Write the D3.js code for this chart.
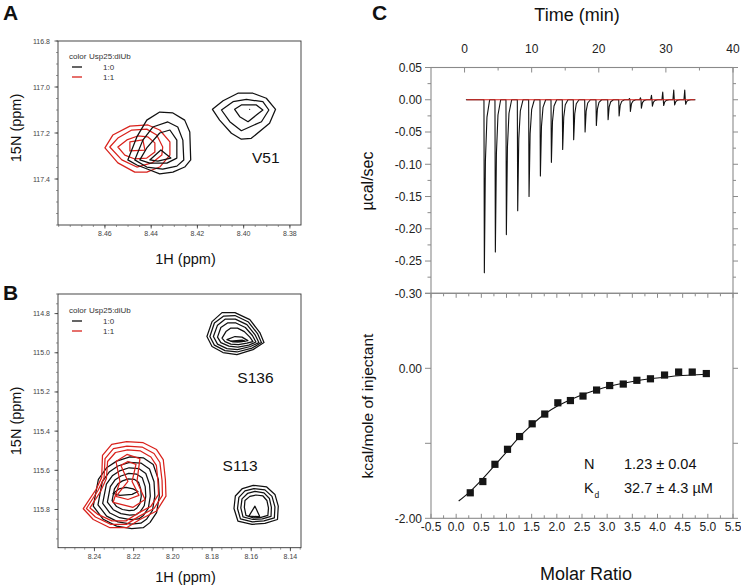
<!DOCTYPE html>
<html><head><meta charset="utf-8">
<script src="https://cdn.jsdelivr.net/npm/d3@7"></script>
<style>body{margin:0;background:#fff}svg{display:block}text{font-family:"Liberation Sans",Arial,sans-serif}</style>
</head><body>
<svg id="c" width="741" height="586"></svg>
<script>
// ---------------- DATA ----------------
// Panel A (1H ppm, 15N ppm) contour polygons
const A_blackLeft = [
 [[8.4501,117.317],[8.4462,117.217],[8.4419,117.144],[8.4363,117.109],[8.4306,117.113],[8.4255,117.144],[8.4233,117.196],[8.4229,117.317],[8.4255,117.348],[8.4306,117.370],[8.4363,117.378],[8.4406,117.361],[8.4462,117.339]],
 [[8.4471,117.317],[8.4436,117.231],[8.4393,117.174],[8.4328,117.152],[8.4285,117.174],[8.4263,117.231],[8.4259,117.317],[8.4289,117.344],[8.4350,117.357],[8.4419,117.348]],
 [[8.4449,117.317],[8.4419,117.265],[8.4363,117.200],[8.4319,117.187],[8.4289,117.231],[8.4289,117.309],[8.4332,117.331],[8.4406,117.331]],
 [[8.4406,117.317],[8.4358,117.274],[8.4315,117.309],[8.4371,117.322]]
];
const A_redLeft = [
 [[8.4600,117.265],[8.4566,117.209],[8.4492,117.170],[8.4414,117.165],[8.4363,117.187],[8.4319,117.239],[8.4319,117.296],[8.4363,117.348],[8.4419,117.370],[8.4471,117.370],[8.4544,117.330]],
 [[8.4579,117.261],[8.4544,117.222],[8.4484,117.187],[8.4419,117.183],[8.4376,117.209],[8.4350,117.261],[8.4354,117.296],[8.4397,117.330],[8.4462,117.348],[8.4527,117.317]],
 [[8.4544,117.261],[8.4505,117.230],[8.4458,117.213],[8.4414,117.217],[8.4384,117.243],[8.4384,117.283],[8.4419,117.309],[8.4471,117.313],[8.4514,117.296]],
 [[8.4492,117.239],[8.4436,117.230],[8.4427,117.274],[8.4492,117.278]]
];
const A_V51 = [
 [[8.4135,117.097],[8.4089,117.060],[8.4025,117.027],[8.3960,117.027],[8.3902,117.049],[8.3862,117.097],[8.3888,117.158],[8.3967,117.223],[8.4010,117.227],[8.4053,117.201],[8.4104,117.144]],
 [[8.4096,117.100],[8.4046,117.064],[8.3988,117.054],[8.3917,117.064],[8.3891,117.100],[8.3923,117.151],[8.4010,117.190],[8.4060,117.151]],
 [[8.4039,117.097],[8.4010,117.078],[8.3945,117.078],[8.3917,117.100],[8.3945,117.122],[8.3981,117.151],[8.4017,117.129]]
];
const A_V51_dot = [8.3974, 117.097];

// Panel B contour polygons
const B_S136 = [
 [[8.1826,114.917],[8.1800,114.841],[8.1749,114.795],[8.1683,114.795],[8.1607,114.831],[8.1556,114.897],[8.1535,114.948],[8.1591,114.984],[8.1673,115.009],[8.1744,114.999],[8.1800,114.968]],
 [[8.1811,114.917],[8.1788,114.848],[8.1742,114.813],[8.1683,114.810],[8.1614,114.843],[8.1568,114.902],[8.1548,114.948],[8.1596,114.976],[8.1673,114.996],[8.1734,114.989],[8.1788,114.961]],
 [[8.1793,114.917],[8.1772,114.859],[8.1732,114.828],[8.1681,114.828],[8.1622,114.856],[8.1581,114.907],[8.1561,114.948],[8.1604,114.968],[8.1670,114.984],[8.1724,114.979],[8.1772,114.956]],
 [[8.1772,114.920],[8.1755,114.871],[8.1721,114.848],[8.1678,114.848],[8.1630,114.871],[8.1594,114.912],[8.1576,114.945],[8.1612,114.961],[8.1668,114.971],[8.1714,114.966],[8.1755,114.948]],
 [[8.1749,114.925],[8.1729,114.892],[8.1704,114.874],[8.1670,114.874],[8.1635,114.892],[8.1607,114.920],[8.1591,114.943],[8.1622,114.951],[8.1665,114.958],[8.1704,114.956],[8.1734,114.943]],
 [[8.1724,114.933],[8.1683,114.917],[8.1647,114.920],[8.1617,114.938],[8.1647,114.943],[8.1693,114.945]],
 [[8.1704,114.940],[8.1647,114.935],[8.1632,114.940],[8.1668,114.944]]
];
const B_S113 = [
 [[8.1681,115.731],[8.1645,115.693],[8.1590,115.677],[8.1521,115.685],[8.1479,115.723],[8.1462,115.783],[8.1466,115.851],[8.1530,115.871],[8.1596,115.876],[8.1668,115.859],[8.1688,115.795]],
 [[8.1663,115.738],[8.1632,115.705],[8.1586,115.693],[8.1530,115.700],[8.1494,115.733],[8.1479,115.787],[8.1482,115.843],[8.1535,115.858],[8.1594,115.863],[8.1655,115.848],[8.1670,115.795]],
 [[8.1647,115.746],[8.1619,115.718],[8.1581,115.708],[8.1535,115.715],[8.1507,115.744],[8.1497,115.789],[8.1499,115.835],[8.1543,115.848],[8.1591,115.851],[8.1642,115.838],[8.1653,115.792]],
 [[8.1632,115.754],[8.1607,115.733],[8.1576,115.726],[8.1540,115.731],[8.1520,115.754],[8.1512,115.792],[8.1515,115.830],[8.1550,115.840],[8.1589,115.843],[8.1627,115.830],[8.1635,115.789]],
 [[8.1612,115.834],[8.1581,115.783],[8.1556,115.837]]
];
const B_leftBlack = [
 [[8.2406,115.783],[8.2380,115.646],[8.2338,115.587],[8.2287,115.553],[8.2219,115.531],[8.2151,115.536],[8.2100,115.570],[8.2074,115.646],[8.2069,115.732],[8.2083,115.816],[8.2117,115.867],[8.2151,115.893],[8.2210,115.898],[8.2287,115.885],[8.2355,115.850]],
 [[8.2382,115.776],[8.2360,115.658],[8.2323,115.607],[8.2280,115.578],[8.2221,115.559],[8.2163,115.563],[8.2119,115.593],[8.2096,115.658],[8.2092,115.732],[8.2104,115.805],[8.2133,115.848],[8.2163,115.870],[8.2213,115.875],[8.2280,115.863],[8.2338,115.834]],
 [[8.2358,115.769],[8.2339,115.671],[8.2309,115.628],[8.2272,115.603],[8.2223,115.587],[8.2174,115.591],[8.2138,115.616],[8.2119,115.671],[8.2115,115.732],[8.2125,115.793],[8.2150,115.830],[8.2174,115.848],[8.2217,115.852],[8.2272,115.842],[8.2321,115.818]],
 [[8.2334,115.762],[8.2319,115.683],[8.2294,115.648],[8.2265,115.629],[8.2225,115.616],[8.2186,115.619],[8.2156,115.638],[8.2141,115.683],[8.2138,115.732],[8.2146,115.781],[8.2166,115.811],[8.2186,115.826],[8.2220,115.829],[8.2265,115.821],[8.2304,115.801]],
 [[8.2310,115.755],[8.2298,115.695],[8.2280,115.669],[8.2257,115.654],[8.2227,115.644],[8.2197,115.646],[8.2175,115.661],[8.2164,115.695],[8.2161,115.733],[8.2168,115.770],[8.2183,115.792],[8.2197,115.803],[8.2223,115.806],[8.2257,115.800],[8.2287,115.785]],
 [[8.2305,115.718],[8.2275,115.695],[8.2239,115.687],[8.2203,115.695],[8.2178,115.708],[8.2208,115.723],[8.2270,115.728]]
];
const B_leftRed = [
 [[8.2457,115.796],[8.2392,115.698],[8.2363,115.636],[8.2359,115.524],[8.2312,115.468],[8.2236,115.454],[8.2151,115.459],[8.2083,115.494],[8.2049,115.545],[8.2038,115.647],[8.2035,115.732],[8.2083,115.808],[8.2168,115.851],[8.2236,115.893],[8.2321,115.893],[8.2406,115.851]],
 [[8.2441,115.795],[8.2382,115.703],[8.2351,115.639],[8.2346,115.540],[8.2303,115.489],[8.2234,115.476],[8.2157,115.481],[8.2096,115.514],[8.2066,115.560],[8.2055,115.652],[8.2053,115.728],[8.2096,115.795],[8.2173,115.835],[8.2237,115.876],[8.2316,115.876],[8.2395,115.838]],
 [[8.2423,115.792],[8.2369,115.708],[8.2339,115.642],[8.2333,115.555],[8.2293,115.509],[8.2231,115.496],[8.2165,115.501],[8.2112,115.532],[8.2084,115.575],[8.2076,115.657],[8.2073,115.723],[8.2112,115.784],[8.2180,115.820],[8.2239,115.858],[8.2311,115.858],[8.2382,115.825]],
 [[8.2290,115.555],[8.2234,115.519],[8.2168,115.540],[8.2183,115.657],[8.2142,115.749],[8.2203,115.789],[8.2305,115.764],[8.2270,115.657]],
 [[8.2265,115.575],[8.2229,115.555],[8.2188,115.570],[8.2208,115.657],[8.2173,115.728],[8.2229,115.749],[8.2290,115.733],[8.2229,115.657]]
];
const legendRatios = ["1:0", "1:1"];
const legendColors = ["#111", "#d9221c"];

// Panel C top: raw ITC thermogram (time in min, µcal/sec)
const injTime = [2.89,4.53,6.17,7.86,9.55,11.24,12.88,14.56,16.20,17.90,19.58,21.33,22.97,24.65,26.29,27.93,29.61,31.25,32.89];
const injPeak = [-0.268,-0.236,-0.209,-0.172,-0.150,-0.118,-0.097,-0.077,-0.062,-0.050,-0.040,-0.031,-0.025,-0.018,-0.013,-0.010,-0.009,-0.008,-0.007];
const injBlip = [0,0,0,0,0,0,0,0,0,0,0,0,0,0.002,0.003,0.007,0.012,0.015,0.015];
const spikeShape = [[0,0],[0.06,1],[0.22,0.35],[0.45,0.1],[0.85,0]];
const traceRange = [0.2, 34.4];
const baselineRange = [0.3, 34.3];
const timeTicks = [0,10,20,30,40];
const rateTicks = [0.05,0,-0.05,-0.10,-0.15,-0.20,-0.25,-0.30];

// Panel C bottom: integrated heats
const molarRatio = [0.28,0.53,0.77,1.02,1.26,1.51,1.76,2.02,2.27,2.52,2.79,3.05,3.32,3.59,3.86,4.14,4.42,4.69,4.97];
const heat = [-1.66,-1.51,-1.28,-1.08,-0.91,-0.74,-0.61,-0.46,-0.43,-0.37,-0.29,-0.23,-0.21,-0.16,-0.14,-0.09,-0.05,-0.05,-0.07];
const fitX = [0.05,0.28,0.53,0.77,1.02,1.26,1.51,1.76,2.02,2.27,2.52,2.79,3.05,3.32,3.59,3.86,4.14,4.42,4.69,4.97];
const fitY = [-1.77,-1.64,-1.47,-1.29,-1.10,-0.91,-0.75,-0.61,-0.50,-0.42,-0.35,-0.29,-0.24,-0.20,-0.165,-0.14,-0.12,-0.10,-0.09,-0.08];
const ratioTicks = [-0.5,0,0.5,1,1.5,2,2.5,3,3.5,4,4.5,5,5.5];
const heatTicks = [0, -2];

// ---------------- DRAW ----------------
const svg = d3.select('#c');
svg.append('rect').attr('width',741).attr('height',586).attr('fill','#fff');

function txt(x, y, s, o = {}) {
  const t = svg.append('text').attr('x', x).attr('y', y).text(s)
    .attr('font-size', o.size || 12).attr('fill', o.fill || '#111')
    .attr('text-anchor', o.anchor || 'start');
  if (o.weight) t.attr('font-weight', o.weight);
  if (o.rotate) t.attr('transform', `rotate(${o.rotate},${x},${y})`);
  return t;
}

let clipId = 0;
function nmrPanel(x, y, xt, yt, xMinN, yMinN, layers, legendY, labels, axisLabelY, nLabelY) {
  const [x0, x1] = x.range(), [y0, y1] = y.range();
  const id = 'clip' + (clipId++);
  svg.append('clipPath').attr('id', id).append('rect')
    .attr('x', x0).attr('y', y0).attr('width', x1 - x0).attr('height', y1 - y0);
  const g = svg.append('g').attr('clip-path', `url(#${id})`);
  const line = d3.line().x(d => x(d[0])).y(d => y(d[1])).curve(d3.curveLinearClosed);
  layers.forEach(L => {
    g.selectAll(null).data(L.data).enter().append('path')
      .attr('d', line).attr('fill', 'none').attr('stroke', L.color)
      .attr('stroke-width', 1.25).attr('stroke-linejoin', 'round');
  });
  // frame
  svg.append('rect').attr('x', x0).attr('y', y0).attr('width', x1 - x0).attr('height', y1 - y0)
    .attr('fill', 'none').attr('stroke', '#333').attr('stroke-width', 0.9);
  // minor ticks
  x.ticks(xMinN).forEach(v => svg.append('line').attr('x1', x(v)).attr('x2', x(v)).attr('y1', y1).attr('y2', y1 + 2).attr('stroke', '#555').attr('stroke-width', 0.6));
  y.ticks(yMinN).forEach(v => svg.append('line').attr('x1', x0 - 2).attr('x2', x0).attr('y1', y(v)).attr('y2', y(v)).attr('stroke', '#555').attr('stroke-width', 0.6));
  // major ticks + labels
  xt.forEach(v => {
    svg.append('line').attr('x1', x(v)).attr('x2', x(v)).attr('y1', y1).attr('y2', y1 + 3.5).attr('stroke', '#333').attr('stroke-width', 0.8);
    txt(x(v), y1 + 11, d3.format('.2f')(v), {size: 7, fill: '#444', anchor: 'middle'});
  });
  yt.forEach(v => {
    svg.append('line').attr('x1', x0 - 3.5).attr('x2', x0).attr('y1', y(v)).attr('y2', y(v)).attr('stroke', '#333').attr('stroke-width', 0.8);
    txt(x0 - 8, y(v) + 2.5, d3.format('.1f')(v), {size: 7, fill: '#444', anchor: 'end'});
  });
  // legend
  txt(x0 + 11, legendY, 'color', {size: 8, fill: '#333'});
  txt(x0 + 31, legendY, 'Usp25:diUb', {size: 8, fill: '#333'});
  legendRatios.forEach((r, i) => {
    const yy = legendY + 10.5 + i * 10;
    svg.append('line').attr('x1', x0 + 14).attr('x2', x0 + 24).attr('y1', yy - 2.5).attr('y2', yy - 2.5)
      .attr('stroke', legendColors[i]).attr('stroke-width', 1.3);
    txt(x0 + 45, yy, r, {size: 8, fill: '#333'});
  });
  // peak labels
  labels.forEach(l => txt(x(l.h), y(l.n), l.t, {size: 15.5}));
  // axis titles
  txt((x0 + x1) / 2 + 6, axisLabelY, '1H (ppm)', {size: 14.5, anchor: 'middle'});
  txt(21, nLabelY, '15N (ppm)', {size: 14.5, anchor: 'middle', rotate: -90});
}

// Panel A
const xA = d3.scaleLinear().domain([8.4803, 8.3752]).range([58, 301]);
const yA = d3.scaleLinear().domain([116.8, 117.6]).range([41, 225]);
nmrPanel(xA, yA, [8.46,8.44,8.42,8.40,8.38], [116.8,117.0,117.2,117.4], 21, 16,
  [{data: A_redLeft, color: legendColors[1]}, {data: A_blackLeft, color: legendColors[0]}, {data: A_V51, color: legendColors[0]}],
  59, [{h: 8.3964, n: 117.33, t: 'V51'}], 264, 128);
svg.append('circle').attr('cx', xA(A_V51_dot[0])).attr('cy', yA(A_V51_dot[1])).attr('r', 0.6).attr('fill', '#111');

// Panel B
const xB = d3.scaleLinear().domain([8.2586, 8.1346]).range([58, 301]);
const yB = d3.scaleLinear().domain([114.7, 115.995]).range([294, 547.7]);
nmrPanel(xB, yB, [8.24,8.22,8.20,8.18,8.16,8.14], [114.8,115.0,115.2,115.4,115.6,115.8], 25, 26,
  [{data: B_leftBlack, color: legendColors[0]}, {data: B_leftRed, color: legendColors[1]}, {data: B_S136, color: legendColors[0]}, {data: B_S113, color: legendColors[0]}],
  313, [{h: 8.1671, n: 115.155, t: 'S136'}, {h: 8.1746, n: 115.605, t: 'S113'}], 582, 421);

// panel letters
txt(3, 20, 'A', {size: 21, weight: 'bold'});
txt(3, 300, 'B', {size: 21, weight: 'bold'});
txt(372, 20, 'C', {size: 21, weight: 'bold'});

// ---------- Panel C ----------
const xT = d3.scaleLinear().domain([-5, 40]).range([431, 733]);
const yT = d3.scaleLinear().domain([-0.30, 0.05]).range([293.3, 67.5]);
const xM = d3.scaleLinear().domain([-0.5, 5.5]).range([431, 733]);
const yM = d3.scaleLinear().domain([-2, 1]).range([518.3, 293.3]);
const frameCol = '#8a8a8a';

function L(x1, y1, x2, y2, c = frameCol, w = 1) {
  svg.append('line').attr('x1', x1).attr('y1', y1).attr('x2', x2).attr('y2', y2).attr('stroke', c).attr('stroke-width', w);
}

// top plot frame
svg.append('rect').attr('x', 431).attr('y', yT(0.05)).attr('width', 302).attr('height', yT(-0.30) - yT(0.05))
  .attr('fill', 'none').attr('stroke', frameCol).attr('stroke-width', 1.1);
// bottom plot frame
svg.append('rect').attr('x', 431).attr('y', yM(1)).attr('width', 302).attr('height', yM(-2) - yM(1))
  .attr('fill', 'none').attr('stroke', frameCol).attr('stroke-width', 1.1);

// top axis (time)
timeTicks.forEach(v => {
  L(xT(v), yT(0.05), xT(v), yT(0.05) + 5);
  txt(xT(v), 52.5, String(v), {size: 12, anchor: 'middle', fill: '#222'});
});
[5, 15, 25, 35].forEach(v => L(xT(v), yT(0.05), xT(v), yT(0.05) + 3));
// left/right axis top plot
rateTicks.forEach(v => {
  L(431 - 6, yT(v), 431, yT(v));
  L(733, yT(v), 733 + 5, yT(v));
  txt(422, yT(v) + 4.3, v.toFixed(2), {size: 12, anchor: 'end', fill: '#222'});
});
[0.025,-0.025,-0.075,-0.125,-0.175,-0.225,-0.275].forEach(v => {
  L(431 - 3.5, yT(v), 431, yT(v));
  L(733, yT(v), 733 + 3, yT(v));
});

// thermogram
const trace = [[traceRange[0], 0]];
injTime.forEach((t, i) => {
  trace.push([t - 0.2, 0], [t - 0.08, injBlip[i]]);
  spikeShape.forEach(s => trace.push([t + s[0], injPeak[i] * s[1]]));
});
trace.push([traceRange[1], 0]);
svg.append('path').datum(trace)
  .attr('d', d3.line().x(d => xT(d[0])).y(d => yT(d[1])))
  .attr('fill', 'none').attr('stroke', '#111').attr('stroke-width', 1.1).attr('stroke-linejoin', 'round');
svg.append('path').datum([[baselineRange[0], 0], [baselineRange[1], 0]])
  .attr('d', d3.line().x(d => xT(d[0])).y(d => yT(d[1])))
  .attr('fill', 'none').attr('stroke', '#d9221c').attr('stroke-width', 1.1);

// bottom plot axes
ratioTicks.forEach(v => {
  L(xM(v), yM(-2), xM(v), yM(-2) - 4.5);
  L(xM(v), yM(1), xM(v), yM(1) + 4.5);
  txt(xM(v), 531, v.toFixed(1), {size: 12, anchor: 'middle', fill: '#222'});
});
ratioTicks.slice(0, -1).forEach(v => {
  L(xM(v + 0.25), yM(-2), xM(v + 0.25), yM(-2) - 3);
  L(xM(v + 0.25), yM(1), xM(v + 0.25), yM(1) + 3);
});
[1, 0, -1, -2].forEach(v => { L(431 - 6, yM(v), 431, yM(v)); L(733, yM(v), 733 + 5, yM(v)); });
heatTicks.forEach(v => txt(422, yM(v) + 4.3, v.toFixed(2), {size: 12, anchor: 'end', fill: '#222'}));

// fit line
svg.append('path').datum(fitX.map((x, i) => [x, fitY[i]]))
  .attr('d', d3.line().x(d => xM(d[0])).y(d => yM(d[1])).curve(d3.curveMonotoneX))
  .attr('fill', 'none').attr('stroke', '#111').attr('stroke-width', 1.1);
// markers
svg.selectAll(null).data(molarRatio.map((x, i) => [x, heat[i]])).enter().append('rect')
  .attr('x', d => xM(d[0]) - 3.6).attr('y', d => yM(d[1]) - 3.6)
  .attr('width', 7.2).attr('height', 7.2).attr('fill', '#151515');

// fit results
txt(584, 469, 'N', {size: 14.5});
txt(624, 469, '1.23 ± 0.04', {size: 14.5});
txt(584, 493, 'K', {size: 14.5});
txt(594.5, 497.5, 'd', {size: 8.5});
txt(624, 493, '32.7 ± 4.3 µM', {size: 14.5});

// axis titles
txt(577, 21, 'Time (min)', {size: 18, anchor: 'middle'});
txt(586, 580, 'Molar Ratio', {size: 18, anchor: 'middle'});
txt(373, 181, 'µcal/sec', {size: 16, anchor: 'middle', rotate: -90});
txt(373, 406, 'kcal/mole of injectant', {size: 15.5, anchor: 'middle', rotate: -90});
</script>
</body></html>
